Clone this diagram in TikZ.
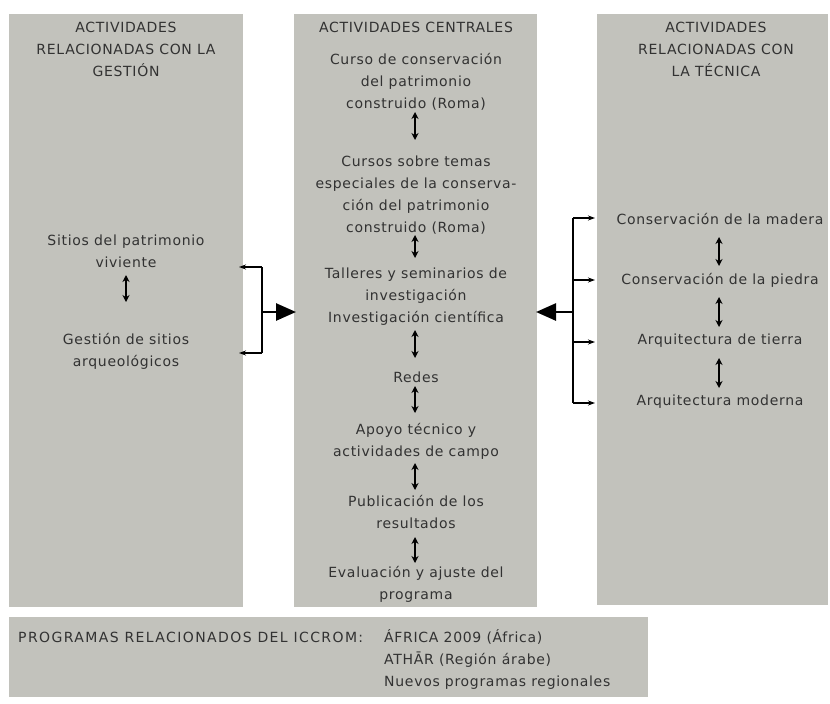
\documentclass[tikz,border=0pt]{standalone}
\usepackage{fontspec}
\setmainfont{DejaVu Sans}[LetterSpace=5]
\newfontfamily\widecaps{DejaVu Sans}[LetterSpace=10]
\usetikzlibrary{arrows.meta}
\definecolor{panelgray}{RGB}{194,194,188}
\definecolor{txtgray}{RGB}{50,50,50}
\tikzset{
  panel/.style={fill=panelgray, draw=none},
  lbl/.style={text=txtgray, align=center, inner sep=1pt, font={\fontsize{14}{22}\selectfont}},
  lbll/.style={text=txtgray, align=left, anchor=west, inner sep=0pt, font={\fontsize{14}{23}\selectfont}},
  dbl/.style={line width=1.8pt, {Stealth[length=7pt,width=7pt]}-{Stealth[length=7pt,width=7pt]}},
  brk/.style={line width=1.6pt},
  sm/.style={line width=1.4pt, -{Stealth[length=7pt,width=5pt]}},
  big/.style={line width=2.6pt, -{Triangle[length=20pt,width=17pt]}}
}
\begin{document}
\begin{tikzpicture}[x=1pt,y=-1pt]
\useasboundingbox (0,0) rectangle (830,704);
% panels
\fill[panel] (9,14) rectangle (243,607);
\fill[panel] (294,14) rectangle (537,607);
\fill[panel] (597,14) rectangle (828,605);
\fill[panel] (9,617) rectangle (648,697);
% left panel
\node[lbl] (lt) at (126,49) {ACTIVIDADES\\RELACIONADAS CON LA\\GESTIÓN};
\node[lbl] (l1) at (126,251) {Sitios del patrimonio\\viviente};
\node[lbl] (l2) at (126,351) {Gestión de sitios\\arqueológicos};
\coordinate (l1a) at (126,275);
\coordinate (l2a) at (126,302);
\draw[dbl] (l1a) -- (l2a);
% middle panel
\node[lbl] (mt) at (416,27) {ACTIVIDADES CENTRALES};
\node[lbl] (m1) at (416,82) {Curso de conservación\\del patrimonio\\construido (Roma)};
\node[lbl] (m2) at (416,195) {Cursos sobre temas\\especiales de la conserva-\\ción del patrimonio\\construido (Roma)};
\node[lbl] (m3) at (416,297) {Talleres y seminarios de\\investigación\\Investigación científica};
\node[lbl] (m4) at (416,377) {Redes};
\node[lbl] (m5) at (416,441) {Apoyo técnico y\\actividades de campo};
\node[lbl] (m6) at (416,512) {Publicación de los\\resultados};
\node[lbl] (m7) at (416,584) {Evaluación y ajuste del\\programa};
\coordinate (a1) at (415,112); \coordinate (b1) at (415,140);
\coordinate (a2) at (415,235); \coordinate (b2) at (415,258);
\coordinate (a3) at (415,330); \coordinate (b3) at (415,358);
\coordinate (a4) at (415,386); \coordinate (b4) at (415,413);
\coordinate (a5) at (415,463); \coordinate (b5) at (415,490);
\coordinate (a6) at (415,537); \coordinate (b6) at (415,563);
\draw[dbl] (a1) -- (b1);
\draw[dbl] (a2) -- (b2);
\draw[dbl] (a3) -- (b3);
\draw[dbl] (a4) -- (b4);
\draw[dbl] (a5) -- (b5);
\draw[dbl] (a6) -- (b6);
% right panel
\node[lbl] (rt) at (716,49) {ACTIVIDADES\\RELACIONADAS CON\\LA TÉCNICA};
\node[lbl] (r1) at (720,219) {Conservación de la madera};
\node[lbl] (r2) at (720,280) {Conservación de la piedra};
\node[lbl] (r3) at (720,341) {Arquitectura de tierra};
\node[lbl] (r4) at (720,402) {Arquitectura moderna};
\coordinate (ra1) at (719,237); \coordinate (rb1) at (719,266);
\coordinate (ra2) at (719,297); \coordinate (rb2) at (719,327);
\coordinate (ra3) at (719,358); \coordinate (rb3) at (719,388);
\draw[dbl] (ra1) -- (rb1);
\draw[dbl] (ra2) -- (rb2);
\draw[dbl] (ra3) -- (rb3);
% left bracket
\coordinate (lb1) at (262,267);
\coordinate (lb2) at (262,353);
\coordinate (lbm) at (262,312);
\coordinate (le1) at (239,267);
\coordinate (le2) at (239,353);
\coordinate (ltip) at (296,312);
\draw[brk] (lb1) -- (lb2);
\draw[sm] (lb1) -- (le1);
\draw[sm] (lb2) -- (le2);
\draw[big] (lbm) -- (ltip);
% right bracket
\coordinate (rb0) at (573,218);
\coordinate (rbz) at (573,403);
\coordinate (rbm) at (573,312);
\coordinate (rtip) at (536,312);
\coordinate (rc2) at (573,280);
\coordinate (rc3) at (573,342);
\coordinate (re1) at (595,218);
\coordinate (re2) at (595,280);
\coordinate (re3) at (595,342);
\coordinate (re4) at (595,403);
\draw[brk] (rb0) -- (rbz);
\draw[sm] (rb0) -- (re1);
\draw[sm] (rc2) -- (re2);
\draw[sm] (rc3) -- (re3);
\draw[sm] (rbz) -- (re4);
\draw[big] (rbm) -- (rtip);
% bottom panel
\node[lbll] (bt) at (18,637) {\widecaps PROGRAMAS RELACIONADOS DEL ICCROM:};
\node[lbll] (b1) at (384,637) {ÁFRICA 2009 (África)};
\node[lbll] (b2) at (384,660) {ATHĀR (Región árabe)};
\node[lbll] (b3) at (384,683) {Nuevos programas regionales};
\end{tikzpicture}
\end{document}
